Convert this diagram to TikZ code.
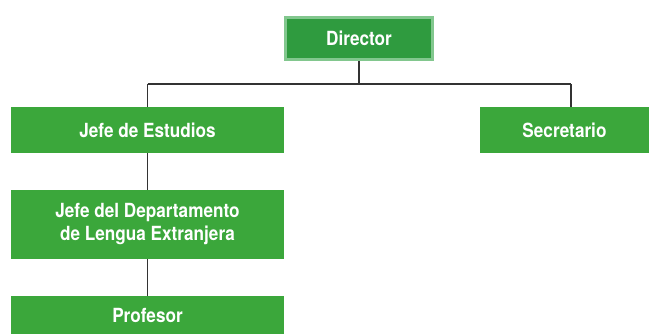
\documentclass[tikz,border=0pt]{standalone}
\usepackage{fontspec}
\setmainfont{TeX Gyre Heros}[FakeStretch=0.88]
\usepackage{xcolor}
\definecolor{boxgreen}{HTML}{3BA73B}
\definecolor{dirgreen}{HTML}{2F9B3F}
\definecolor{dirrim}{HTML}{82C78E}
\definecolor{linegray}{HTML}{333333}
\usetikzlibrary{positioning,backgrounds}

\begin{document}
\begin{tikzpicture}[x=1pt,y=-1pt,
  cargo/.style={fill=boxgreen, text=white, font=\fontsize{19.5}{23}\selectfont\bfseries,
    minimum width=273, minimum height=46, inner sep=0pt, align=center},
  jefe/.style={cargo, fill=dirgreen, draw=dirrim, line width=3pt,
    minimum width=147, minimum height=42},
  enlace/.style={draw=linegray, line width=1.4pt}]
\useasboundingbox (0,0) rectangle (649,334);
% cajas
\node[jefe]  (dir)  at (359,38.5) {Director};
\node[cargo] (est)  at (147.5,130) {Jefe de Estudios};
\node[cargo, minimum width=169] (sec) at (564.5,130) {Secretario};
\node[cargo, minimum height=69] (dep) at (147.5,224.5) {Jefe del Departamento\\de Lengua Extranjera};
\node[cargo, minimum height=38] (prof) at (147.5,315) {Profesor};
% lineas
\coordinate (bi) at (147.5,84);
\coordinate (bd) at (571,84);
\begin{scope}[on background layer]
\draw[enlace] (bi) -- (bd);
\draw[enlace] (dir.south) -- (dir.south |- bi);
\draw[enlace] (bi) -- (est.north);
\draw[enlace] (bd) -- (bd |- sec.north);
\draw[enlace] (est.south) -- (dep.north);
\draw[enlace] (dep.south) -- (prof.north);
\end{scope}
\end{tikzpicture}
\end{document}
